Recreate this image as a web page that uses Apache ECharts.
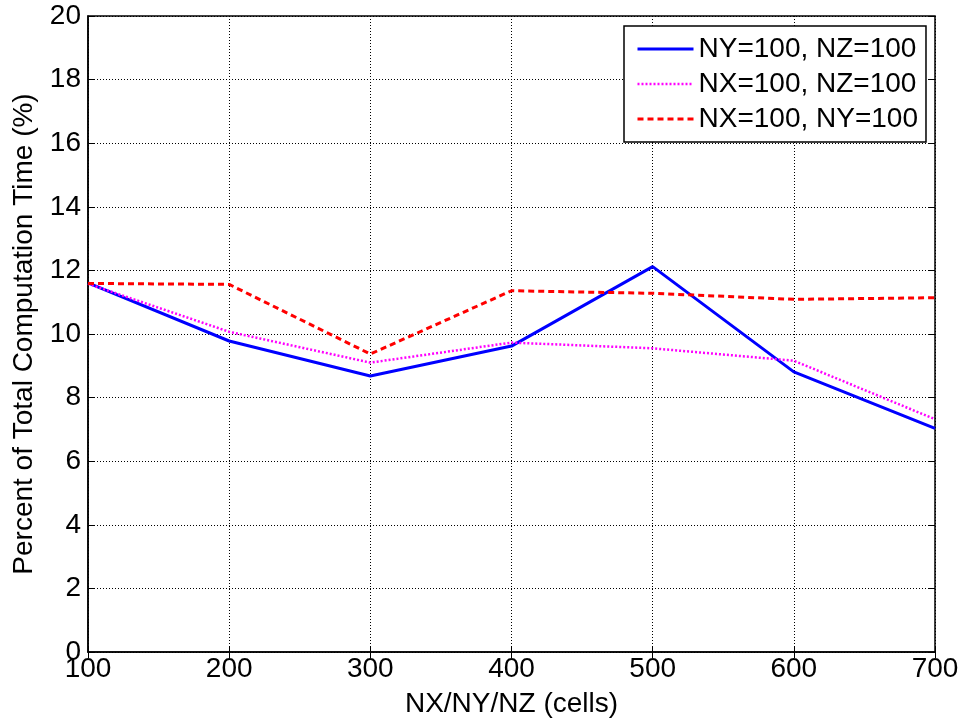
<!DOCTYPE html>
<html>
<head>
<meta charset="utf-8">
<script src="https://cdn.jsdelivr.net/npm/echarts@6/dist/echarts.min.js"></script>
<style>
  html, body { margin: 0; padding: 0; background: #fff; }
  #chart { width: 964px; height: 723px; }
</style>
</head>
<body>
<div id="chart"></div>
<script>
// Grid sizes along the swept dimension
const cells = [100, 200, 300, 400, 500, 600, 700];

// Share of total computation time (%) for each sweep
const sweepX = [11.61, 9.78, 8.68, 9.62, 12.12, 8.81, 7.03];   // NY=100, NZ=100
const sweepY = [11.58, 10.07, 9.10, 9.73, 9.55, 9.16, 7.32];   // NX=100, NZ=100
const sweepZ = [11.59, 11.56, 9.37, 11.36, 11.28, 11.09, 11.14]; // NX=100, NY=100

const seriesNames = ['NY=100, NZ=100', 'NX=100, NZ=100', 'NX=100, NY=100'];

const font = 'Liberation Sans, Arial, Helvetica, sans-serif';
const fs = 28;
const pairs = vals => cells.map((c, i) => [c, vals[i]]);

const styles = [
  { color: '#0000ff', width: 3, type: 'solid' },
  { color: '#ff00ff', width: 2.5, type: [2, 2] },
  { color: '#ff0000', width: 3, type: [6, 4] }
];

const gridLine = { show: true, lineStyle: { color: '#000', type: [1, 2], width: 1 } };
const tick = { show: true, inside: true, length: 6, lineStyle: { color: '#000', width: 1 } };

const chart = echarts.init(document.getElementById('chart'));
chart.setOption({
  animation: false,
  backgroundColor: '#fff',
  grid: {
    left: 88, right: 29, top: 16, bottom: 71,
    show: true, borderColor: '#000', borderWidth: 1.5, backgroundColor: 'transparent'
  },
  legend: {
    orient: 'vertical',
    left: 624, top: 26,
    padding: [9, 8, 9, 12],
    itemGap: 7,
    itemWidth: 56,
    itemHeight: 14,
    borderColor: '#000', borderWidth: 1.5,
    backgroundColor: '#fff',
    itemStyle: { opacity: 0 },
    textStyle: { fontFamily: font, fontSize: fs, color: '#000' },
    data: seriesNames.map((n, i) => ({ name: n, lineStyle: styles[i] }))
  },
  xAxis: [{
    type: 'value', min: 100, max: 700, interval: 100,
    name: 'NX/NY/NZ (cells)', nameLocation: 'middle', nameGap: 38,
    nameTextStyle: { fontFamily: font, fontSize: fs, color: '#000' },
    axisLine: { show: true, lineStyle: { color: '#000', width: 1.5 } },
    axisTick: tick,
    axisLabel: { fontFamily: font, fontSize: fs, color: '#000', margin: 3 },
    splitLine: gridLine
  }, {
    type: 'value', min: 100, max: 700, interval: 100, position: 'top',
    axisLine: { show: false }, axisTick: tick, axisLabel: { show: false }, splitLine: { show: false }
  }],
  yAxis: [{
    type: 'value', min: 0, max: 20, interval: 2,
    name: 'Percent of Total Computation Time (%)', nameLocation: 'middle', nameGap: 50,
    nameTextStyle: { fontFamily: font, fontSize: fs, color: '#000' },
    axisLine: { show: true, lineStyle: { color: '#000', width: 1.5 } },
    axisTick: tick,
    axisLabel: { fontFamily: font, fontSize: fs, color: '#000', margin: 7 },
    splitLine: gridLine
  }, {
    type: 'value', min: 0, max: 20, interval: 2, position: 'right',
    axisLine: { show: false }, axisTick: tick, axisLabel: { show: false }, splitLine: { show: false }
  }],
  series: [sweepX, sweepY, sweepZ].map((vals, i) => ({
    name: seriesNames[i], type: 'line', symbol: 'none',
    data: pairs(vals),
    lineStyle: styles[i],
    itemStyle: { color: styles[i].color }
  }))
});
</script>
</body>
</html>
